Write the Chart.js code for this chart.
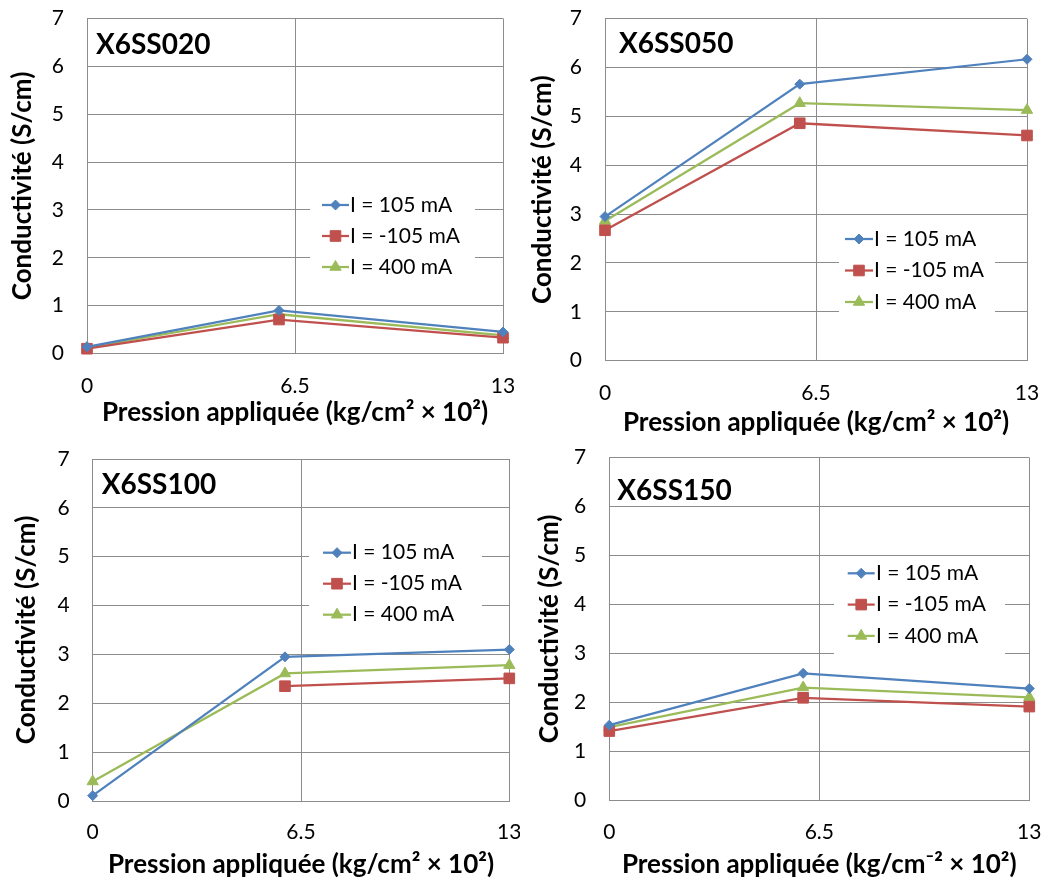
<!DOCTYPE html>
<html>
<head>
<meta charset="utf-8">
<script src="https://cdn.jsdelivr.net/npm/chart.js@4.4.1/dist/chart.umd.min.js"></script>
<style>
html, body { margin: 0; padding: 0; background: #fff; }
#wrap { position: relative; width: 1044px; height: 879px; overflow: hidden; background: #fff; }
.panel { position: absolute; }
.panel canvas { display: block; }
</style>
</head>
<body>
<div id="wrap">
  <div class="panel" style="left:0px;top:0px;"><canvas id="c0" width="520" height="440"></canvas></div>
  <div class="panel" style="left:520px;top:0px;"><canvas id="c1" width="524" height="440"></canvas></div>
  <div class="panel" style="left:0px;top:440px;"><canvas id="c2" width="520" height="439"></canvas></div>
  <div class="panel" style="left:520px;top:440px;"><canvas id="c3" width="524" height="439"></canvas></div>
</div>
<script>
// ---------------- DATA ----------------
const pressure = [0, 6, 13];               // applied pressure (x values)
const xTickValues = [0, 6.5, 13];          // x tick labels
const yTickMin = 0, yTickMax = 7, yTickStep = 1;
const seriesLabels = ['I = 105 mA', 'I = -105 mA', 'I = 400 mA'];
const panelTitles = ['X6SS020', 'X6SS050', 'X6SS100', 'X6SS150'];
const yAxisTitle = 'Conductivité (S/cm)';
const xAxisTitles = [
  'Pression appliquée (kg/cm² × 10²)',
  'Pression appliquée (kg/cm² × 10²)',
  'Pression appliquée (kg/cm² × 10²)',
  'Pression appliquée (kg/cm⁻² × 10²)'
];

const x6ss020_p105 = [0.14, 0.90, 0.45];
const x6ss020_m105 = [0.10, 0.71, 0.33];
const x6ss020_p400 = [0.12, 0.82, 0.38];

const x6ss050_p105 = [2.95, 5.66, 6.17];
const x6ss050_m105 = [2.67, 4.86, 4.61];
const x6ss050_p400 = [2.86, 5.27, 5.13];

const x6ss100_p105 = [0.11, 2.95, 3.10];
const x6ss100_m105 = [null, 2.35, 2.51];
const x6ss100_p400 = [0.40, 2.61, 2.78];

const x6ss150_p105 = [1.53, 2.59, 2.28];
const x6ss150_m105 = [1.41, 2.09, 1.91];
const x6ss150_p400 = [1.49, 2.30, 2.10];

const panelSeries = [
  [x6ss020_p105, x6ss020_m105, x6ss020_p400],
  [x6ss050_p105, x6ss050_m105, x6ss050_p400],
  [x6ss100_p105, x6ss100_m105, x6ss100_p400],
  [x6ss150_p105, x6ss150_m105, x6ss150_p400]
];

// ---------------- STYLE ----------------
const FONT = 'Lato, "Open Sans", "DejaVu Sans", sans-serif';
const GRID = '#8c8c8c';
const seriesStyles = [
  { color: '#4F81BD', pointStyle: 'rectRot', radius: 5 },
  { color: '#C0504D', pointStyle: 'rect', radius: 7.5 },
  { color: '#9BBB59', pointStyle: 'triangle', radius: 6.5 }
];

// canvas-relative layout per panel
const panelLayouts = [
  { w: 520, h: 440, area: { l: 87, t: 18.5, r: 503, b: 353.5 }, yTitlePad: 10, xTitlePad: 14, xTickPad: 20,
    legend: { x: 310, y: 189, w: 165, h: 96, lineX: 322, lineW: 27, row0: 205, rowH: 31, textX: 350 },
    title: { x: 96, y: 54 } },
  { w: 524, h: 440, area: { l: 85, t: 18.7, r: 507, b: 360.7 }, yTitlePad: 10, xTitlePad: 4, xTickPad: 20,
    legend: { x: 319, y: 223, w: 156, h: 96, lineX: 325, lineW: 28, row0: 239, rowH: 31.5, textX: 354 },
    title: { x: 99, y: 53.3 } },
  { w: 520, h: 439, area: { l: 92.7, t: 19, r: 509.3, b: 361 }, yTitlePad: 13.7, xTitlePad: 1, xTickPad: 19,
    legend: { x: 309, y: 97, w: 173, h: 96, lineX: 323, lineW: 28, row0: 112.7, rowH: 31, textX: 352 },
    title: { x: 101.7, y: 54.3 } },
  { w: 524, h: 439, area: { l: 89.3, t: 17.7, r: 509.3, b: 360 }, yTitlePad: 16.5, xTitlePad: 1, xTickPad: 20,
    legend: { x: 314, y: 118, w: 171, h: 96, lineX: 327.7, lineW: 27, row0: 133.3, rowH: 31.3, textX: 356 },
    title: { x: 97.3, y: 60 } }
];

// ---------------- PLUGIN: in-plot title + legend ----------------
const overlayPlugin = {
  id: 'overlay',
  afterDraw(chart, args, opts) {
    const ctx = chart.ctx;
    const lg = opts.legend;
    ctx.save();
    // panel title
    ctx.fillStyle = '#000';
    ctx.font = 'bold 28px ' + FONT;
    ctx.textBaseline = 'alphabetic';
    ctx.textAlign = 'left';
    ctx.fillText(opts.title, opts.titlePos.x, opts.titlePos.y);
    // legend
    ctx.fillStyle = '#fff';
    ctx.fillRect(lg.x, lg.y, lg.w, lg.h);
    chart.data.datasets.forEach((ds, i) => {
      const y = lg.row0 + i * lg.rowH;
      ctx.strokeStyle = ds.borderColor;
      ctx.lineWidth = ds.borderWidth;
      ctx.beginPath();
      ctx.moveTo(lg.lineX, y);
      ctx.lineTo(lg.lineX + lg.lineW, y);
      ctx.stroke();
      ctx.fillStyle = ds.pointBackgroundColor;
      ctx.strokeStyle = ds.pointBorderColor;
      ctx.lineWidth = 1;
      Chart.helpers.drawPoint(ctx, { pointStyle: ds.pointStyle, radius: ds.pointRadius, rotation: 0, borderWidth: 1 },
        lg.lineX + lg.lineW / 2, y);
      ctx.fillStyle = '#000';
      ctx.font = '21px ' + FONT;
      ctx.textBaseline = 'middle';
      ctx.textAlign = 'left';
      ctx.fillText(ds.label, lg.textX, y);
    });
    ctx.restore();
  }
};

// ---------------- BUILD ----------------
panelTitles.forEach((title, p) => {
  const L = panelLayouts[p];
  const datasets = panelSeries[p].map((vals, s) => ({
    label: seriesLabels[s],
    data: pressure.map((x, i) => ({ x: x, y: vals[i] })),
    borderColor: seriesStyles[s].color,
    backgroundColor: seriesStyles[s].color,
    pointBackgroundColor: seriesStyles[s].color,
    pointBorderColor: seriesStyles[s].color,
    pointStyle: seriesStyles[s].pointStyle,
    pointRadius: seriesStyles[s].radius,
    pointBorderWidth: 1,
    borderWidth: 2.25,
    tension: 0,
    spanGaps: false,
    clip: false
  }));

  new Chart(document.getElementById('c' + p), {
    type: 'line',
    data: { datasets },
    plugins: [overlayPlugin],
    options: {
      responsive: false,
      animation: false,
      devicePixelRatio: 1,
      layout: { padding: { left: 0, top: L.area.t, right: L.w - L.area.r, bottom: 0 } },
      plugins: {
        legend: { display: false },
        tooltip: { enabled: false },
        overlay: { title: title, titlePos: L.title, legend: L.legend }
      },
      scales: {
        x: {
          type: 'linear',
          min: xTickValues[0],
          max: xTickValues[xTickValues.length - 1],
          afterBuildTicks: (scale) => { scale.ticks = xTickValues.map(v => ({ value: v })); },
          afterFit: (scale) => {
            scale.height = L.h - L.area.b;
            scale.paddingLeft = 0; scale.paddingRight = 0; scale.paddingTop = 0; scale.paddingBottom = 0;
          },
          grid: { color: GRID, lineWidth: 1, drawTicks: false },
          border: { display: true, color: GRID, width: 1 },
          ticks: {
            padding: L.xTickPad,
            color: '#000',
            font: { family: FONT, size: 21 },
            maxRotation: 0,
            autoSkip: false,
            callback: (v) => String(v)
          },
          title: {
            display: true,
            text: xAxisTitles[p],
            color: '#000',
            font: { family: FONT, size: 26, weight: 'bold', lineHeight: 1 },
            padding: { top: 0, bottom: L.xTitlePad }
          }
        },
        y: {
          min: yTickMin,
          max: yTickMax,
          afterFit: (scale) => {
            scale.width = L.area.l;
            scale.paddingLeft = 0; scale.paddingRight = 0; scale.paddingTop = 0; scale.paddingBottom = 0;
          },
          grid: { color: GRID, lineWidth: 1, drawTicks: false },
          border: { display: true, color: GRID, width: 1 },
          ticks: {
            stepSize: yTickStep,
            padding: 23,
            color: '#000',
            font: { family: FONT, size: 21 }
          },
          title: {
            display: true,
            text: yAxisTitle,
            color: '#000',
            font: { family: FONT, size: 26, weight: 'bold', lineHeight: 1 },
            padding: { top: L.yTitlePad, bottom: 0 }
          }
        }
      }
    }
  });
});
</script>
</body>
</html>
